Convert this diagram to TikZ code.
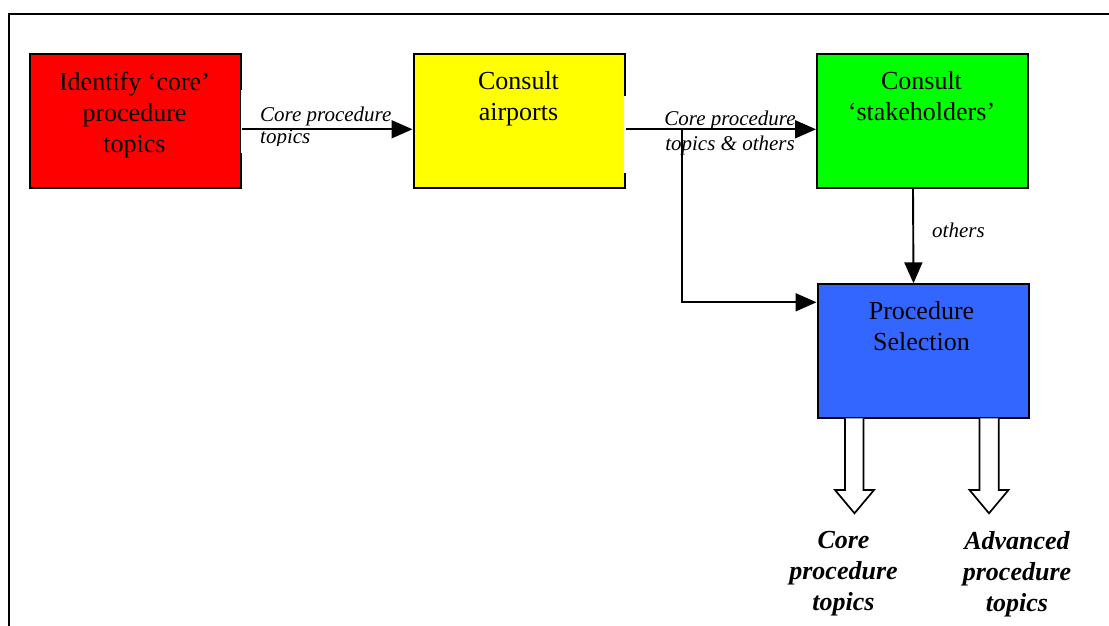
\documentclass[tikz,border=0pt]{standalone}
\usepackage{fontspec}
\setmainfont{Liberation Serif}
\usetikzlibrary{arrows.meta}
\definecolor{boxred}{RGB}{255,0,0}
\definecolor{boxyellow}{RGB}{255,255,0}
\definecolor{boxgreen}{RGB}{0,255,0}
\definecolor{boxblue}{RGB}{51,102,255}
\tikzset{
  stage/.style={draw=black, line width=2pt, minimum width=211pt, minimum height=134pt,
    anchor=north west, inner sep=0pt},
  stagetext/.style={anchor=north, align=center, inner sep=0pt,
    font=\fontsize{26}{31}\selectfont},
  flowlabel/.style={inner sep=0pt, font=\fontsize{21}{25}\selectfont\itshape},
  outlabel/.style={anchor=north, align=center, inner sep=0pt,
    font=\fontsize{26}{31}\selectfont\bfseries\itshape},
  flow/.style={line width=1.9pt, -{Triangle[length=21pt,width=18pt]}},
  hollow/.style={draw=black, fill=white, line width=1.7pt, line join=miter}
}
\begin{document}
\begin{tikzpicture}[x=1pt,y=-1pt]
\useasboundingbox (0,0) rectangle (1109,626);
\clip (0,0) rectangle (1109,626);
\fill[white] (0,0) rectangle (1109,626);

% outer frame (runs past the right and bottom edges)
\draw[line width=1.8pt] (9,640) -- (9,14.3) -- (1130,14.3);

% process stages
\node[stage, fill=boxred]    (ident)    at (29,53)    {};
\node[stage, fill=boxyellow] (airports) at (412.5,53) {};
\node[stage, fill=boxgreen]  (stake)    at (816,53)   {};
\node[stage, fill=boxblue]   (sel)      at (816.5,283.3) {};

\node[stagetext] (identtxt) at (134.5,71.5) {Identify ‘core’\\procedure\\topics};
\node[stagetext] (airtxt)   at (518.5,71.5) {Consult\\airports};
\node[stagetext] (staketxt) at (921.5,71.5) {Consult\\‘stakeholders’};
\node[stagetext] (seltxt)   at (921.5,301.5) {Procedure\\Selection};

% label boxes overlap the right borders of the first two stages
\fill[white] (240.6,90) rectangle (242.8,153);
\fill[white] (624.4,96) rectangle (626.8,173);

% flow labels
\begin{scope}
  \clip (240,90) rectangle (405,145.5);
  \node[flowlabel, anchor=north west, align=left,
        font=\fontsize{21}{22.5}\selectfont\itshape] (lab1) at (260,106.6)
        {Core procedure\\topics};
\end{scope}
\node[flowlabel, anchor=north, align=center] (lab2) at (730,110.6)
      {Core procedure\\topics \& others};
\node[flowlabel, anchor=north west] (lab3) at (932,222.5) {others};

% connectors
\coordinate (split) at (681.7,129.3);
\draw[flow] (ident.east |- 0,129.3) -- (airports.west |- 0,129.3);
\draw[flow] (airports.east |- split) -- (stake.west |- split);
\draw[flow] (split) |- ([yshift=-19pt]sel.north west);
\draw[flow] ([xshift=-9.5pt]stake.south) -- ([xshift=-9.5pt]sel.north);

% output block arrows, hanging from the bottom edge of the selection box
\draw[hollow] (845,418.3) -- (845,490) -- (835,490) -- (854.5,513.3)
  -- (874,490) -- (863.5,490) -- (863.5,418.3);
\draw[hollow] (979.5,418.3) -- (979.5,490) -- (969.5,490) -- (989,513.3)
  -- (1008.5,490) -- (998.8,490) -- (998.8,418.3);

% outputs
\node[outlabel] (coreout) at (843.5,531.5) {Core\\procedure\\topics};
\node[outlabel] (advout)  at (1017,531) {Advanced\\procedure\\topics};
\end{tikzpicture}
\end{document}
